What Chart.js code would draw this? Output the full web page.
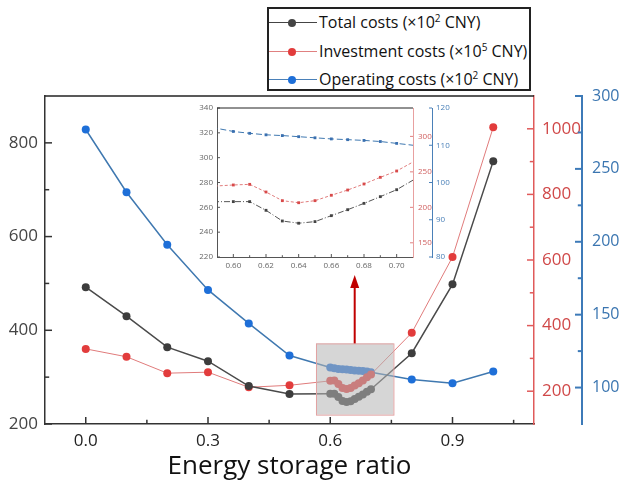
<!DOCTYPE html>
<html>
<head>
<meta charset="utf-8">
<script src="https://cdn.jsdelivr.net/npm/chart.js@4.4.0/dist/chart.umd.min.js"></script>
<style>
  body { margin: 0; background: #fff; font-family: 'Open Sans', sans-serif; }
  #wrap { position: relative; width: 623px; height: 489px; overflow: hidden; }
  #main { position: absolute; left: 0; top: 0; }
  #inset { position: absolute; left: 170px; top: 98px; }
  #legend { position: absolute; left: 267px; top: 7px; width: 260px; height: 80px;
            border: 2px solid #222; background: #fff; }
  .row { position: absolute; left: 0; width: 260px; height: 20px; }
  .line { position: absolute; left: 0; top: 9px; width: 48px; height: 0; border-top: 1.5px solid; }
  .dot { position: absolute; left: 19px; top: 6px; width: 8px; height: 8px; border-radius: 50%; }
  .txt { position: absolute; left: 50px; top: -1px; font-size: 16px; color: #111; white-space: nowrap; line-height: 20px; }
  .txt sup { font-size: 10px; vertical-align: 6px; line-height: 0; }
</style>
</head>
<body>
<div id="wrap">
  <canvas id="main" width="623" height="489"></canvas>
  <canvas id="inset" width="285" height="180"></canvas>
  <div id="legend">
    <div class="row" style="top:4px"><div class="line" style="border-color:#444"></div><div class="dot" style="background:#444"></div><div class="txt">Total costs (×10<sup>2</sup> CNY)</div></div>
    <div class="row" style="top:33px"><div class="line" style="border-color:#e08080"></div><div class="dot" style="background:#e23c3c"></div><div class="txt">Investment costs (×10<sup>5</sup> CNY)</div></div>
    <div class="row" style="top:61px"><div class="line" style="border-color:#4a80b8"></div><div class="dot" style="background:#1e6fd8"></div><div class="txt">Operating costs (×10<sup>2</sup> CNY)</div></div>
  </div>
</div>
<script>
// data
const ratio = [0, 0.1, 0.2, 0.3, 0.4, 0.5, 0.60, 0.61, 0.62, 0.63, 0.64, 0.65, 0.66, 0.67, 0.68, 0.69, 0.70, 0.8, 0.9, 1.0];
const totalCosts = [492, 430, 364, 334, 281, 264, 264.6, 264.6, 257.6, 249, 247.2, 248.5, 253.3, 258.1, 263.2, 268.6, 274.2, 351, 498, 761];
const investCosts = [329, 305, 255, 258, 212, 218, 231.5, 232.4, 221.6, 209.4, 206.5, 209.4, 217, 224.4, 232.9, 242.3, 251.2, 378, 609, 1005];
const operCosts = [277, 234, 198, 167, 144, 122, 113.7, 113.2, 112.8, 112.6, 112.3, 112, 111.7, 111.5, 111.3, 111, 110.5, 105.5, 103, 111];

// main axes ticks
const xTicks = [0, 0.3, 0.6, 0.9];
const xMinor = [0.15, 0.45, 0.75, 1.05];
const leftTicks = [200, 400, 600, 800];
const leftMinor = [300, 500, 700];
const redTicks = [200, 400, 600, 800, 1000];
const redMinor = [300, 500, 700, 900];
const blueTicks = [100, 150, 200, 250, 300];
const blueMinor = [125, 175, 225, 275];

// inset axes ticks
const insetXTicks = [0.60, 0.62, 0.64, 0.66, 0.68, 0.70];
const insetXMinor = [0.61, 0.63, 0.65, 0.67, 0.69];
const insetLeftTicks = [220, 240, 260, 280, 300, 320, 340];
const insetRedTicks = [150, 200, 250, 300];
const insetBlueTicks = [80, 90, 100, 110, 120];

// zoom box (x from, x to, left-axis from, to) and arrow tip (left-axis value)
const zoomBox = [0.565, 0.755, 220, 372];
const arrowTip = 518;

const pts = arr => arr.map((v, i) => ({x: ratio[i], y: v}));
const fixTicks = list => scale => { scale.ticks = list.map(v => ({value: v})); };
const plain = v => String(v);

function tickPlugin(specs, topWidth) {
  return {
    id: 'inTicks',
    afterDraw(chart) {
      const c = chart.ctx;
      c.save();
      specs.forEach(s => {
        const sc = chart.scales[s.id];
        c.strokeStyle = s.color;
        c.lineWidth = s.width || 1;
        const draw = (vals, len) => vals.forEach(v => {
          const p = sc.getPixelForValue(v);
          c.beginPath();
          if (s.side === 'x') { c.moveTo(p, sc.top); c.lineTo(p, sc.top - len); }
          else if (s.side === 'l') { c.moveTo(sc.right, p); c.lineTo(sc.right + len, p); }
          else { c.moveTo(sc.left, p); c.lineTo(sc.left - len, p); }
          c.stroke();
        });
        draw(s.major, s.len);
        draw(s.minor || [], s.len * 0.6);
      });
      // top frame
      const a = chart.chartArea;
      c.strokeStyle = '#222';
      c.lineWidth = topWidth;
      c.beginPath(); c.moveTo(a.left, a.top); c.lineTo(a.right, a.top); c.stroke();
      c.restore();
    }
  };
}

const boxPlugin = {
  id: 'zoomBox',
  afterDatasetsDraw(chart) {
    const c = chart.ctx, x = chart.scales.x, y = chart.scales.y;
    const x0 = x.getPixelForValue(zoomBox[0]), x1 = x.getPixelForValue(zoomBox[1]);
    const y0 = y.getPixelForValue(zoomBox[3]), y1 = y.getPixelForValue(zoomBox[2]);
    c.save();
    c.fillStyle = 'rgba(180,180,180,0.55)';
    c.fillRect(x0, y0, x1 - x0, y1 - y0);
    c.strokeStyle = '#e3a3a3';
    c.lineWidth = 1;
    c.strokeRect(x0 + 0.5, y0 + 0.5, x1 - x0, y1 - y0);
    // arrow
    const ax = (x0 + x1) / 2, tip = y.getPixelForValue(arrowTip);
    c.strokeStyle = '#c00000'; c.fillStyle = '#c00000'; c.lineWidth = 2;
    c.beginPath(); c.moveTo(ax, y0); c.lineTo(ax, tip + 10); c.stroke();
    c.beginPath(); c.moveTo(ax, tip); c.lineTo(ax - 4.5, tip + 13); c.lineTo(ax + 4.5, tip + 13); c.closePath(); c.fill();
    c.restore();
  }
};

const font = 'Open Sans';

new Chart(document.getElementById('main'), {
  type: 'scatter',
  data: {
    datasets: [
      { label: 'Total costs', data: pts(totalCosts), yAxisID: 'y', showLine: true,
        borderColor: '#4a4a4a', borderWidth: 1.5, pointBackgroundColor: '#3d3d3d', pointBorderWidth: 0, pointRadius: 4 },
      { label: 'Investment costs', data: pts(investCosts), yAxisID: 'y1', showLine: true,
        borderColor: '#e07b7b', borderWidth: 1, pointBackgroundColor: '#e23c3c', pointBorderWidth: 0, pointRadius: 4 },
      { label: 'Operating costs', data: pts(operCosts), yAxisID: 'y2', showLine: true,
        borderColor: '#3f78b0', borderWidth: 1.5, pointBackgroundColor: '#1e6fd8', pointBorderWidth: 0, pointRadius: 4 }
    ]
  },
  options: {
    responsive: false,
    animation: false,
    devicePixelRatio: 1,
    layout: { padding: { top: 96, left: 0, right: 0, bottom: 0 } },
    plugins: { legend: { display: false }, tooltip: { enabled: false } },
    scales: {
      x: {
        type: 'linear', min: -0.1, max: 1.1,
        afterBuildTicks: fixTicks(xTicks),
        afterFit: s => { s.height = 65; },
        grid: { display: false, drawTicks: false },
        border: { color: '#333', width: 1.5 },
        ticks: { padding: 7, color: '#222', font: { family: font, size: 17 }, callback: v => v.toFixed(1) },
        title: { display: true, text: 'Energy storage ratio', color: '#111',
                 font: { family: font, size: 26 }, padding: { top: 0, bottom: 7 } }
      },
      y: {
        position: 'left', min: 200, max: 900,
        afterBuildTicks: fixTicks(leftTicks),
        afterFit: s => { s.width = 45; },
        grid: { display: false, drawTicks: false },
        border: { color: '#333', width: 1.5 },
        ticks: { padding: 7, color: '#444', font: { family: font, size: 17 }, callback: plain }
      },
      y1: {
        position: 'right', weight: 1, min: 100, max: 1100,
        afterBuildTicks: fixTicks(redTicks),
        afterFit: s => { s.width = 48; },
        grid: { display: false, drawTicks: false },
        border: { color: '#e05a5a', width: 1.5 },
        ticks: { padding: 8, color: '#d04848', font: { family: font, size: 17 }, callback: plain }
      },
      y2: {
        position: 'right', weight: 2, min: 75, max: 300,
        afterBuildTicks: fixTicks(blueTicks),
        afterFit: s => { s.width = 41; },
        grid: { display: false, drawTicks: false },
        border: { color: '#3d7ab8', width: 2 },
        ticks: { padding: 10, color: '#3a75b0', font: { family: font, size: 16 }, callback: plain }
      }
    }
  },
  plugins: [boxPlugin, tickPlugin([
    { id: 'x', side: 'x', major: xTicks, minor: xMinor, len: 7, color: '#333', width: 1.5 },
    { id: 'y', side: 'l', major: leftTicks, minor: leftMinor, len: 7, color: '#333', width: 1.5 },
    { id: 'y1', side: 'r', major: redTicks, minor: redMinor, len: 7, color: '#e05a5a', width: 1.5 },
    { id: 'y2', side: 'r', major: blueTicks, minor: blueMinor, len: 7, color: '#3d7ab8', width: 2 }
  ], 1.5)]
});

const small = { family: font, size: 8 };
new Chart(document.getElementById('inset'), {
  type: 'scatter',
  data: {
    datasets: [
      { data: pts(totalCosts), yAxisID: 'y', showLine: true, borderColor: '#555', borderWidth: 1,
        borderDash: [6, 2, 1, 2], pointStyle: 'rect', pointRadius: 2, pointBorderWidth: 0, pointBackgroundColor: '#444' },
      { data: pts(investCosts), yAxisID: 'y1', showLine: true, borderColor: '#e07b7b', borderWidth: 1,
        borderDash: [3, 2], pointStyle: 'rect', pointRadius: 2, pointBorderWidth: 0, pointBackgroundColor: '#d84a4a' },
      { data: pts(operCosts), yAxisID: 'y2', showLine: true, borderColor: '#3f78b0', borderWidth: 1,
        borderDash: [6, 3], pointStyle: 'rect', pointRadius: 2, pointBorderWidth: 0, pointBackgroundColor: '#3a70b0' }
    ]
  },
  options: {
    responsive: false,
    animation: false,
    devicePixelRatio: 1,
    layout: { padding: { top: 10, left: 0, right: 0, bottom: 0 } },
    plugins: { legend: { display: false }, tooltip: { enabled: false } },
    scales: {
      x: {
        type: 'linear', min: 0.59, max: 0.71,
        afterBuildTicks: fixTicks(insetXTicks),
        afterFit: s => { s.height = 21; },
        grid: { display: false, drawTicks: false },
        border: { color: '#555', width: 1 },
        ticks: { padding: 4, color: '#666', font: small, callback: v => v.toFixed(2) }
      },
      y: {
        position: 'left', min: 220, max: 340,
        afterBuildTicks: fixTicks(insetLeftTicks),
        afterFit: s => { s.width = 47; },
        grid: { display: false, drawTicks: false },
        border: { color: '#555', width: 1 },
        ticks: { padding: 4, color: '#666', font: small }
      },
      y1: {
        position: 'right', weight: 1, min: 130, max: 340,
        afterBuildTicks: fixTicks(insetRedTicks),
        afterFit: s => { s.width = 19; },
        grid: { display: false, drawTicks: false },
        border: { color: '#e8a0a0', width: 1 },
        ticks: { padding: 5, color: '#d06060', font: small }
      },
      y2: {
        position: 'right', weight: 2, min: 80, max: 120,
        afterBuildTicks: fixTicks(insetBlueTicks),
        afterFit: s => { s.width = 23; },
        grid: { display: false, drawTicks: false },
        border: { color: '#4a80b8', width: 1 },
        ticks: { padding: 4, color: '#4a80b8', font: small }
      }
    }
  },
  plugins: [tickPlugin([
    { id: 'x', side: 'x', major: insetXTicks, minor: insetXMinor, len: 3, color: '#555' },
    { id: 'y', side: 'l', major: insetLeftTicks, len: 3, color: '#555' },
    { id: 'y1', side: 'r', major: insetRedTicks, len: 3, color: '#e08080' },
    { id: 'y2', side: 'r', major: insetBlueTicks, len: 3, color: '#4a80b8' }
  ], 1)]
});
</script>
</body>
</html>
